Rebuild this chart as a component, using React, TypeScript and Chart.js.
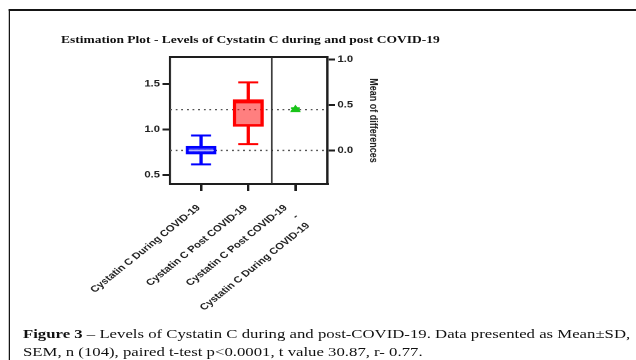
import React, { useEffect, useRef } from "react";
import { Chart, registerables } from "chart.js";

Chart.register(...registerables);

// ---- data ----
const groups = ["Cystatin C During COVID-19", "Cystatin C Post COVID-19"];
const xTickValues = [0, 1, 2];
const xTickLabels = ["Cystatin C During COVID-19", "Cystatin C Post COVID-19", ""];
const diffTickValues = [2];
const diffTickLabels = [["Cystatin C Post COVID-19", "-", "Cystatin C During COVID-19"]];
const minVals = [0.617, 0.84];
const q1Vals = [0.73, 1.035];
const medianVals = [0.77, 1.3];
const q3Vals = [0.816, 1.33];
const maxVals = [0.934, 1.52];
const groupMeans = [0.77, 1.22];
const meanDiff = 0.45;
const meanDiffSem = 0.015;
const leftTicks = [0.5, 1.0, 1.5];
const rightTicks = [0.0, 0.5, 1.0];
const leftMin = 0.4;
const leftMax = 1.8;
const xMin = -0.66;
const xMax = 2.68;
const separatorAt = 1.5;

const BLUE = "#0000ff";
const RED = "#ff0000";
const GREEN = "#19c419";
const AXIS = "#1e1e1e";
const STRETCH = 1.25;

const sans = "Arial, 'Liberation Sans', Helvetica, sans-serif";
const serif = "'Times New Roman', 'Liberation Serif', Times, serif";

const framePlugin = {
  id: "frameSep",
  afterDraw(chart: any) {
    const { ctx, chartArea } = chart;
    const xs = chart.scales.x;
    ctx.save();
    ctx.strokeStyle = AXIS;
    ctx.lineWidth = 2;
    ctx.beginPath();
    ctx.moveTo(chartArea.left, chartArea.top);
    ctx.lineTo(chartArea.right, chartArea.top);
    ctx.stroke();
    const sx = xs.getPixelForValue(separatorAt);
    ctx.lineWidth = 1.2;
    ctx.strokeStyle = "#2a2a2a";
    ctx.beginPath();
    ctx.moveTo(sx, chartArea.top);
    ctx.lineTo(sx, chartArea.bottom);
    ctx.stroke();
    ctx.restore();
  },
};

function EstimationChart() {
  const ref = useRef<HTMLCanvasElement>(null);
  useEffect(() => {
    if (!ref.current) return;
    const tickFont = { family: sans, size: 9, weight: "bold" as const, lineHeight: 1.4 };
    const chart = new Chart(ref.current, {
      type: "bar",
      data: {
        datasets: [
          {
            type: "line",
            label: "mean during",
            data: [
              { x: xMin, y: groupMeans[0] },
              { x: xMax, y: groupMeans[0] },
            ],
            borderColor: "#555",
            borderWidth: 1.3,
            borderDash: [1.5, 3],
            pointRadius: 0,
            yAxisID: "y",
            order: 7,
          } as any,
          {
            type: "line",
            label: "mean post",
            data: [
              { x: xMin, y: groupMeans[1] },
              { x: xMax, y: groupMeans[1] },
            ],
            borderColor: "#555",
            borderWidth: 1.3,
            borderDash: [1.5, 3],
            pointRadius: 0,
            yAxisID: "y",
            order: 7,
          } as any,
          {
            type: "bar",
            label: "lower whisker",
            data: groups.map((_, i) => ({ x: i, y: [minVals[i], q1Vals[i]] })),
            backgroundColor: [BLUE, RED],
            barThickness: 2,
            grouped: false,
            yAxisID: "y",
            order: 6,
          } as any,
          {
            type: "bar",
            label: "upper whisker",
            data: groups.map((_, i) => ({ x: i, y: [q3Vals[i], maxVals[i]] })),
            backgroundColor: [BLUE, RED],
            barThickness: 2,
            grouped: false,
            yAxisID: "y",
            order: 6,
          } as any,
          {
            type: "bar",
            label: "box",
            data: groups.map((_, i) => ({ x: i, y: [q1Vals[i], q3Vals[i]] })),
            backgroundColor: ["rgba(20,20,255,0.72)", "rgba(255,0,0,0.5)"],
            borderColor: [BLUE, RED],
            borderWidth: 2,
            borderSkipped: false,
            barThickness: 24,
            grouped: false,
            yAxisID: "y",
            order: 5,
          } as any,
          {
            type: "scatter",
            label: "caps",
            data: groups.flatMap((_, i) => [
              { x: i, y: minVals[i] },
              { x: i, y: maxVals[i] },
            ]),
            pointStyle: "line",
            pointRadius: 8,
            borderColor: [BLUE, BLUE, RED, RED],
            pointBorderColor: [BLUE, BLUE, RED, RED],
            pointBorderWidth: 2,
            yAxisID: "y",
            order: 4,
          } as any,
          {
            type: "scatter",
            label: "median",
            data: groups.map((_, i) => ({ x: i, y: medianVals[i] })),
            pointStyle: "line",
            pointRadius: 10,
            borderColor: ["#b4b4ff", RED],
            pointBorderColor: ["#b4b4ff", RED],
            pointBorderWidth: [1.2, 2],
            yAxisID: "y",
            order: 3,
          } as any,
          {
            type: "line",
            label: "difference SEM",
            data: [
              { x: 2, y: meanDiff - meanDiffSem },
              { x: 2, y: meanDiff + meanDiffSem },
            ],
            borderColor: GREEN,
            borderWidth: 2,
            pointStyle: "line",
            pointRadius: 3.5,
            pointBorderColor: GREEN,
            pointBorderWidth: 2,
            yAxisID: "y2",
            order: 2,
          } as any,
          {
            type: "scatter",
            label: "mean of differences",
            data: [{ x: 2, y: meanDiff }],
            pointStyle: "triangle",
            pointRadius: 4,
            backgroundColor: GREEN,
            borderColor: GREEN,
            pointBackgroundColor: GREEN,
            pointBorderColor: GREEN,
            yAxisID: "y2",
            order: 1,
          } as any,
        ],
      },
      options: {
        animation: false,
        responsive: false,
        devicePixelRatio: 2,
        events: [],
        layout: { padding: { left: 0, top: 27, right: 14, bottom: 0 } },
        plugins: { legend: { display: false }, tooltip: { enabled: false }, title: { display: false } },
        scales: {
          x: {
            type: "linear",
            position: "bottom",
            weight: 1,
            offset: false,
            min: xMin,
            max: xMax,
            afterBuildTicks: (s: any) => {
              s.ticks = xTickValues.map((v) => ({ value: v }));
            },
            afterFit: (s: any) => {
              s.height = 136;
            },
            ticks: {
              autoSkip: false,
              minRotation: 45,
              maxRotation: 45,
              callback: (_v: any, i: number) => xTickLabels[i],
              font: tickFont,
              color: "#222",
              padding: 11,
              labelOffset: -2,
            },
            grid: {
              display: true,
              offset: false,
              drawOnChartArea: false,
              drawTicks: true,
              tickLength: 7,
              color: AXIS,
              lineWidth: 2,
            },
            border: { display: true, color: AXIS, width: 2 },
          },
          xDiff: {
            type: "linear",
            axis: "x",
            position: { y: leftMin },
            offset: false,
            min: xMin,
            max: xMax,
            afterBuildTicks: (s: any) => {
              s.ticks = diffTickValues.map((v) => ({ value: v }));
            },
            afterFit: (s: any) => {
              s.height = 0;
            },
            ticks: {
              autoSkip: false,
              minRotation: 45,
              maxRotation: 45,
              callback: (_v: any, i: number) => diffTickLabels[i],
              font: tickFont,
              color: "#222",
              padding: 18,
              labelOffset: -7.8,
            },
            grid: { display: false, drawTicks: false, drawOnChartArea: false },
            border: { display: false },
          },
          y: {
            type: "linear",
            position: "left",
            min: leftMin,
            max: leftMax,
            afterBuildTicks: (s: any) => {
              s.ticks = leftTicks.map((v) => ({ value: v }));
            },
            afterFit: (s: any) => {
              s.width = 116;
            },
            ticks: { font: tickFont, color: "#222", padding: 2, callback: (v: any) => Number(v).toFixed(1) },
            grid: { drawOnChartArea: false, tickLength: 6, color: AXIS, lineWidth: 2 },
            border: { display: true, color: AXIS, width: 1.8 },
          },
          y2: {
            type: "linear",
            position: "right",
            min: leftMin - groupMeans[0],
            max: leftMax - groupMeans[0],
            afterBuildTicks: (s: any) => {
              s.ticks = rightTicks.map((v) => ({ value: v }));
            },
            afterFit: (s: any) => {
              s.width = 44;
            },
            ticks: { font: tickFont, color: "#222", padding: 2, callback: (v: any) => Number(v).toFixed(1) },
            grid: { drawOnChartArea: false, tickLength: 6, color: AXIS, lineWidth: 2 },
            border: { display: true, color: AXIS, width: 1.8 },
            title: {
              display: true,
              text: "Mean of differences",
              color: "#222",
              font: { family: sans, size: 9, weight: "bold", lineHeight: 1.2 },
              padding: { top: 2, bottom: 0 },
            },
          },
        },
      } as any,
      plugins: [framePlugin],
    });
    return () => chart.destroy();
  }, []);
  return <canvas ref={ref} width={300} height={290} />;
}

export default function App() {
  return (
    <div
      style={{
        position: "fixed",
        left: 0,
        top: 0,
        width: 636,
        height: 360,
        overflow: "hidden",
        background: "#fff",
      }}
    >
      <div
        style={{
          position: "absolute",
          left: 0,
          top: 0,
          width: 636 / STRETCH,
          height: 360,
          transform: `scaleX(${STRETCH})`,
          transformOrigin: "0 0",
        }}
      >
        <div
          style={{
            position: "absolute",
            left: 7.2,
            top: 9,
            width: 600,
            height: 400,
            borderLeft: "1.6px solid #151515",
            borderTop: "2px solid #151515",
          }}
        />
        <div
          style={{
            position: "absolute",
            left: 48.8,
            top: 32,
            fontFamily: serif,
            fontWeight: "bold",
            fontSize: 10.8,
            lineHeight: "14px",
            color: "#111",
            whiteSpace: "nowrap",
          }}
        >
          Estimation Plot - Levels of Cystatin C during and post COVID-19
        </div>
        <div style={{ position: "absolute", left: 20, top: 30, width: 300, height: 290 }}>
          <EstimationChart />
        </div>
        <div
          style={{
            position: "absolute",
            left: 18.4,
            top: 325,
            fontFamily: serif,
            fontSize: 13.4,
            lineHeight: "18px",
            color: "#111",
            whiteSpace: "nowrap",
          }}
        >
          <b>Figure 3</b> – Levels of Cystatin C during and post-COVID-19. Data presented as Mean±SD,
          <br />
          SEM, n (104), paired t-test p&lt;0.0001, t value 30.87, r- 0.77.
        </div>
      </div>
    </div>
  );
}
